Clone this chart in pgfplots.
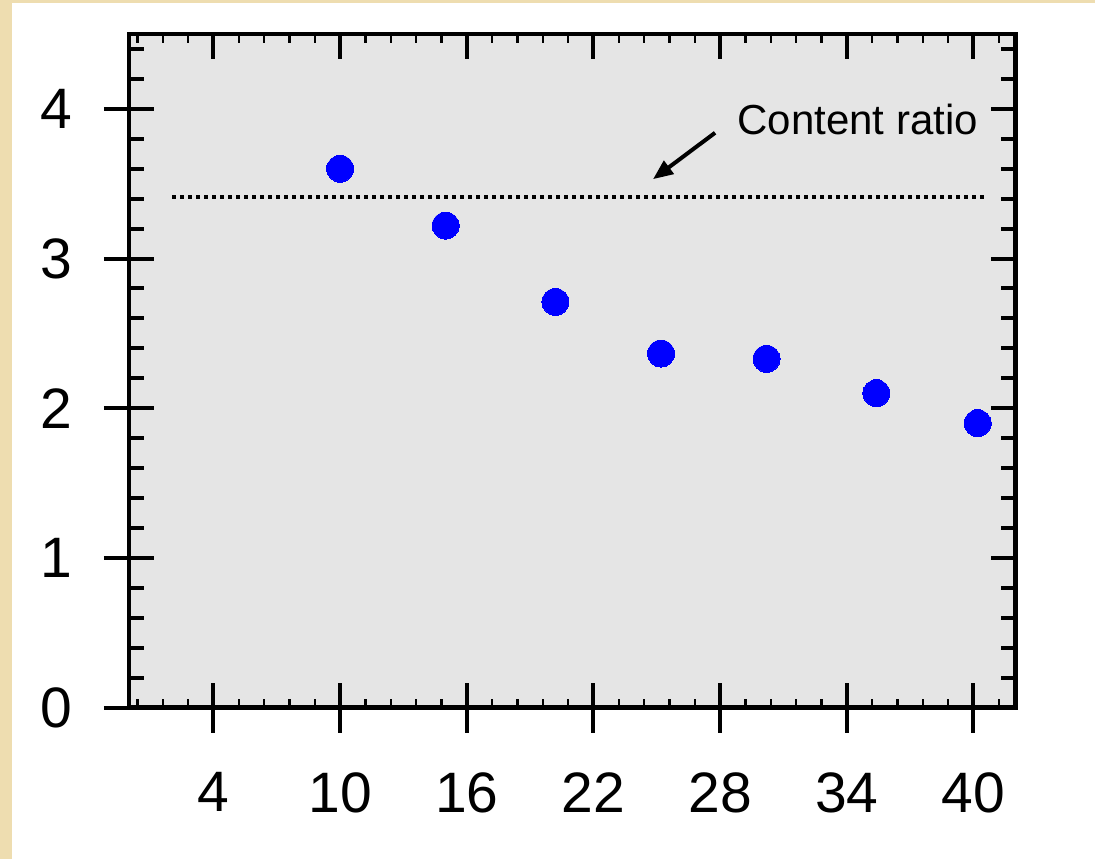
\documentclass[border=0pt]{standalone}
\usepackage{pgfplots}
\pgfplotsset{compat=1.18}
\usepackage{fontspec}
\setmainfont{Liberation Sans}
\usetikzlibrary{arrows.meta}

\definecolor{parchment}{RGB}{238,221,176}
\definecolor{plotgray}{RGB}{229,229,229}
\definecolor{markblue}{RGB}{0,0,255}

% measured points
\pgfplotstableread{
x     y
10.0  3.60
15.0  3.22
20.2  2.71
25.2  2.365
30.2  2.33
35.4  2.10
40.2  1.90
}\ratiodata

\pgfplotsset{
  frame/.style={
    scale only axis,
    width=443.35pt, height=336.75pt,
    xmin=0, xmax=42, ymin=0, ymax=4.5,
    at={(0,0)}, anchor=south west,
    axis line style={line width=2.25pt, black},
    clip=false,
  },
}

\begin{document}
\begin{tikzpicture}
  % page background
  \fill[parchment] (-64.5pt,-75.75pt) rectangle (483pt,353.75pt);
  \fill[white] (-58.5pt,-75.75pt) rectangle (483pt,352.25pt);

  % main axis: data, labels, outer halves of the major ticks
  \begin{axis}[frame,
    axis background/.style={fill=plotgray},
    xtick={4,10,...,40}, ytick={0,1,...,4},
    xtick pos=bottom, ytick pos=left,
    tick align=outside,
    major tick length=12.5pt,
    major tick style={line width=2pt, black},
    /pgf/number format/assume math mode=true,
    ticklabel style={font=\fontsize{28.5pt}{34pt}\selectfont, inner sep=0pt},
    xticklabel style={yshift=-19.75pt},
    yticklabel style={xshift=-15.5pt},
  ]
    \addplot[line width=2pt, dash pattern=on 2pt off 2pt, black]
      coordinates {(2.04,3.41) (40.5,3.41)};
    \addplot[only marks, mark=*, mark size=6.75pt,
             mark options={fill=markblue, draw=markblue, line width=0pt}]
      table[x=x, y=y] {\ratiodata};
    \draw[line width=2pt, -{Triangle[length=10pt, width=8pt]}]
      (axis cs:27.76,3.84) -- (axis cs:24.82,3.53);
    \node[anchor=base west, inner sep=0pt,
          font=\fontsize{21pt}{25pt}\selectfont]
      at (axis cs:28.8,3.83) {Content ratio};
  \end{axis}

  % inner x ticks, top and bottom
  \begin{axis}[frame,
    xtick={4,10,...,40}, ytick=\empty,
    minor xtick={0.4,1.6,...,41.25},
    tick align=inside,
    major tick length=12.5pt, minor tick length=4.25pt,
    major tick style={line width=2pt, black},
    minor tick style={line width=1.25pt, black},
    xticklabels={}, yticklabels={},
  ]
  \end{axis}

  % inner y ticks, left and right
  \begin{axis}[frame,
    xtick=\empty, ytick={0,1,...,4},
    minor ytick={0.2,0.4,...,4.45},
    tick align=inside,
    major tick length=12.5pt, minor tick length=7.5pt,
    major tick style={line width=2pt, black},
    minor tick style={line width=2pt, black},
    xticklabels={}, yticklabels={},
  ]
  \end{axis}

  \pgfresetboundingbox
  \path (-64.5pt,-75.75pt) rectangle (483pt,353.75pt);
\end{tikzpicture}
\end{document}
